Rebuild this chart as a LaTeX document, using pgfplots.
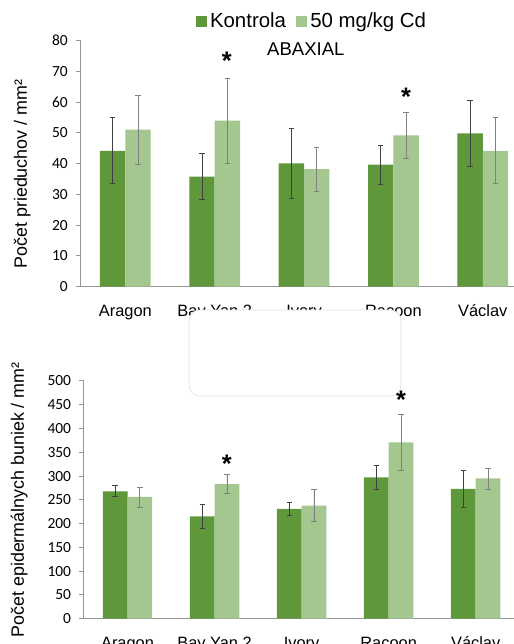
\documentclass[border=0pt]{standalone}
\usepackage{pgfplots}
\pgfplotsset{compat=1.18}
\usepackage{fontspec}
\setmainfont{Liberation Sans}
\newfontfamily\carlito{Carlito}
\definecolor{dk}{RGB}{95,152,58}
\definecolor{lt}{RGB}{163,199,142}
\definecolor{axc}{RGB}{150,150,150}

\pgfplotstableread{
x  k     ke    l     le
0  44.2  10.7  51.1  11.2
1  35.8  7.5   54.0  13.8
2  40.1  11.3  38.2  7.2
3  39.7  6.3   49.2  7.5
4  49.9  10.7  44.2  10.7
}\abaxial
\pgfplotstableread{
x  k     ke    l     le
0  268   11.5  256   21
1  215   26    283   20.5
2  231   14    238   34
3  297   24.5  371   58.5
4  273   39.5  295   22
}\epid

\pgfplotsset{
  mybars/.style={
    scale only axis, ybar, bar width=0.284,
    xmin=-0.5, ymin=0,
    axis x line*=bottom, axis y line*=left,
    axis line style={axc, line width=0.75pt},
    xtick={0,1,2,3,4},
    xticklabels={Aragon,Bay Yan 2,Ivory,Racoon,Václav},
    x tick style={draw=none},
    y tick style={axc, line width=0.75pt},
    tick align=outside, major tick length=3.5pt,
    xticklabel style={font=\fontsize{12.3}{14}\selectfont, anchor=base, yshift=-18.75pt},
    yticklabel style={font=\carlito\fontsize{11.6}{13}\selectfont, anchor=east, inner sep=0pt, xshift=-6pt},
    /pgf/number format/assume math mode=true,
    clip=false,
  },
  kerr/.style={error bars/.cd, y dir=both, y explicit,
    error bar style={line width=0.6pt, black!75},
    error mark options={rotate=90, mark size=2pt, line width=0.6pt, black!75}},
  lerr/.style={error bars/.cd, y dir=both, y explicit,
    error bar style={line width=0.6pt, black!50},
    error mark options={rotate=90, mark size=2pt, line width=0.6pt, black!50}},
}

\begin{document}
\begin{tikzpicture}
\draw[white] (0,0) rectangle (385.5pt,-483pt);

% top chart
\begin{axis}[mybars,
  at={(60.525pt,-215.025pt)}, anchor=south west,
  width=325pt, height=184.5pt,
  xmax=4.35, ymax=80, ytick={0,10,...,80},
  ylabel={Počet prieduchov / mm²},
  every axis y label/.style={at={(axis description cs:-0.135,0.458)}, rotate=90, anchor=center, font=\fontsize{13.4}{15}\selectfont},
  legend columns=2,
  legend style={at={(axis description cs:0.535,1.078)}, anchor=center, draw=none, fill=none,
    font=\fontsize{15.3}{17}\selectfont, inner sep=0pt,
    nodes={inner xsep=2.5pt},
    /tikz/every even column/.append style={column sep=5pt}},
  legend image code/.code={\fill[#1] (0pt,-4.1pt) rectangle (8.25pt,4.1pt);},
]
\addplot[fill=dk, draw=none, bar shift=-0.142, kerr] table[x=x, y=k, y error=ke]{\abaxial};
\addplot[fill=lt, draw=none, bar shift=0.142, lerr] table[x=x, y=l, y error=le]{\abaxial};
\legend{Kontrola, 50 mg/kg Cd}
\node[font=\bfseries\fontsize{19}{19}\selectfont, yshift=-3.8pt] at (axis cs:1.135,75) {*};
\node[font=\bfseries\fontsize{19}{19}\selectfont, yshift=-3.8pt] at (axis cs:3.142,63.3) {*};
\node[font=\fontsize{13.9}{16}\selectfont] at (axis cs:2.02,77.3) {ABAXIAL};
\end{axis}

% white rounded box
\fill[white] (141.75pt,-232.5pt) [rounded corners=8pt] rectangle (300.75pt,-297pt);
\draw[gray!25, line width=0.5pt, rounded corners=8pt] (141.75pt,-232.5pt) rectangle (300.75pt,-297pt);

% bottom chart
\begin{axis}[mybars,
  at={(63pt,-464.025pt)}, anchor=south west,
  width=322.5pt, height=178.3pt,
  xmax=4.44, ymax=500, ytick={0,50,...,500},
  ylabel={Počet epidermálnych buniek / mm²},
  every axis y label/.style={at={(axis description cs:-0.151,0.50)}, rotate=90, anchor=center, font=\fontsize{13.4}{15}\selectfont},
]
\addplot[fill=dk, draw=none, bar shift=-0.142, kerr] table[x=x, y=k, y error=ke]{\epid};
\addplot[fill=lt, draw=none, bar shift=0.142, lerr] table[x=x, y=l, y error=le]{\epid};
\node[font=\bfseries\fontsize{19}{19}\selectfont, yshift=-3.8pt] at (axis cs:1.142,336) {*};
\node[font=\bfseries\fontsize{19}{19}\selectfont, yshift=-3.8pt] at (axis cs:3.142,472) {*};
\end{axis}

\pgfresetboundingbox
\useasboundingbox (0,0) rectangle (385.5pt,-483pt);
\end{tikzpicture}
\end{document}
